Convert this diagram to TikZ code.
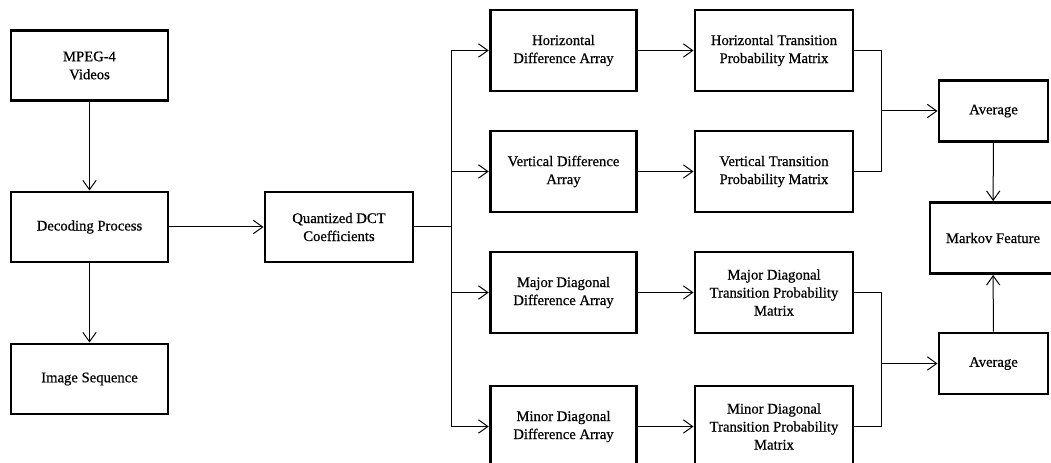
\documentclass[tikz,border=0pt]{standalone}
\usepackage{fontspec}
\setmainfont{Liberation Serif}[FakeBold=0.6]
\usetikzlibrary{arrows.meta, positioning, calc}
\definecolor{ink}{RGB}{0,0,0}

\tikzset{
  box/.style={draw=ink, line width=2.2pt, align=center, inner sep=2pt,
              font=\fontsize{11}{13.5}\selectfont},
  srcbox/.style={box, minimum width=117.75pt, minimum height=52.5pt},
  dctbox/.style={box, minimum width=111pt, minimum height=52.5pt},
  diffbox/.style={box, minimum width=110pt, minimum height=60.75pt},
  tpmbox/.style={box, minimum width=118.5pt, minimum height=60.75pt},
  avgbox/.style={box, minimum width=81.75pt, minimum height=45.75pt},
  featbox/.style={box, minimum width=94.5pt, minimum height=53.25pt},
  arr/.style={draw=ink, line width=0.75pt, -{Straight Barb[length=7pt,width=10pt]}},
  wire/.style={draw=ink, line width=0.75pt}
}

\begin{document}
\begin{tikzpicture}[x=0.75pt, y=-0.75pt]
  \useasboundingbox (0,0) rectangle (1051,463);

  % left column
  \node[srcbox] (mpeg) at (89.5,65.5) {MPEG-4\\Videos};
  \node[srcbox] (dec) at (89.5,227) {Decoding Process};
  \node[srcbox] (img) at (89.5,379) {Image Sequence};
  \node[dctbox] (qdct) at (339,227) {Quantized DCT\\Coefficients};

  % difference arrays
  \node[diffbox] (hd) at (563.5,50.5) {Horizontal\\Difference Array};
  \node[diffbox] (vd) at (563.5,171.5) {Vertical Difference\\Array};
  \node[diffbox] (jd) at (563.5,292.5) {Major Diagonal\\Difference Array};
  \node[diffbox] (nd) at (563.5,426.5) {Minor Diagonal\\Difference Array};

  % transition probability matrices
  \node[tpmbox] (ht) at (774,50.5) {Horizontal Transition\\Probability Matrix};
  \node[tpmbox] (vt) at (774,171.5) {Vertical Transition\\Probability Matrix};
  \node[tpmbox] (jt) at (774,292.5) {Major Diagonal\\Transition Probability\\Matrix};
  \node[tpmbox] (nt) at (774,426.5) {Minor Diagonal\\Transition Probability\\Matrix};

  % right side
  \node[avgbox] (avga) at (993.5,111) {Average};
  \node[featbox] (mk) at (993,238) {Markov Feature};
  \node[avgbox] (avgb) at (993.5,363.5) {Average};

  \coordinate (br) at (451.5,227);
  \coordinate (ma) at (881,111);
  \coordinate (mb) at (881,363.5);

  % connectors
  \draw[arr] (mpeg) -- (dec);
  \draw[arr] (dec) -- (img);
  \draw[arr] (dec) -- (qdct);
  \draw[wire] (qdct.east) -- (br);
  \foreach \d in {hd,vd,jd,nd}
    \draw[arr] (br) |- (\d.west);
  \draw[arr] (hd) -- (ht);
  \draw[arr] (vd) -- (vt);
  \draw[arr] (jd) -- (jt);
  \draw[arr] (nd) -- (nt);
  \draw[wire] (ht.east) -| (ma);
  \draw[wire] (vt.east) -| (ma);
  \draw[arr] (ma) -- (avga.west);
  \draw[wire] (jt.east) -| (mb);
  \draw[wire] (nt.east) -| (mb);
  \draw[arr] (mb) -- (avgb.west);
  \draw[arr] (avga) -- (mk);
  \draw[arr] (avgb) -- (mk);
\end{tikzpicture}
\end{document}
